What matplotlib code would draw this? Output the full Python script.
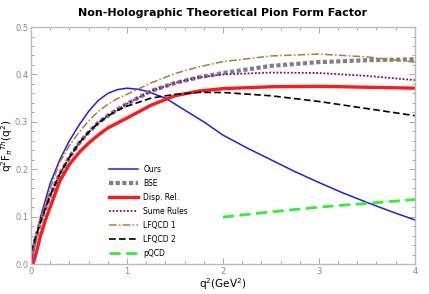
import numpy as np
import matplotlib
matplotlib.use("Agg")
import matplotlib.pyplot as plt
from matplotlib.ticker import MultipleLocator, FormatStrFormatter

# curve samples
x_ours = [0, 0.1, 0.2, 0.3, 0.4, 0.5, 0.6, 0.7, 0.8, 0.9, 1.0, 1.1, 1.2, 1.4, 1.6, 1.8,
          2.0, 2.25, 2.5, 2.75, 3.0, 3.25, 3.5, 3.75, 4.0]
y_ours = [0.0, 0.10, 0.17, 0.22, 0.26, 0.293, 0.322, 0.345, 0.36, 0.368, 0.371, 0.369, 0.365,
          0.35, 0.325, 0.30, 0.272, 0.245, 0.22, 0.195, 0.172, 0.15, 0.13, 0.111, 0.093]

x_c = [0, 0.1, 0.2, 0.3, 0.4, 0.5, 0.6, 0.7, 0.8, 0.9, 1.0, 1.25, 1.5, 1.75, 2.0, 2.5, 3.0, 3.5, 4.0]
y_bse = [0.02, 0.09, 0.145, 0.19, 0.225, 0.255, 0.278, 0.298, 0.313, 0.326, 0.338, 0.365,
         0.382, 0.394, 0.403, 0.418, 0.426, 0.43, 0.432]
y_sum = [0.02, 0.09, 0.145, 0.19, 0.225, 0.255, 0.278, 0.298, 0.313, 0.326, 0.338, 0.365,
         0.382, 0.394, 0.400, 0.404, 0.403, 0.397, 0.388]
y_lf1 = [0.02, 0.09, 0.16, 0.215, 0.25, 0.278, 0.302, 0.322, 0.337, 0.349, 0.358, 0.382,
         0.402, 0.416, 0.427, 0.439, 0.443, 0.437, 0.426]
y_lf2 = [0.025, 0.09, 0.145, 0.19, 0.225, 0.255, 0.278, 0.297, 0.312, 0.324, 0.333, 0.35,
         0.358, 0.362, 0.362, 0.355, 0.343, 0.328, 0.313]

x_disp = [0.02, 0.05, 0.1, 0.15, 0.2, 0.3, 0.4, 0.5, 0.6, 0.7, 0.8, 1.0, 1.25, 1.5, 1.75,
          2.0, 2.5, 3.0, 3.5, 4.0]
y_disp = [0.0, 0.02, 0.06, 0.093, 0.12, 0.175, 0.21, 0.235, 0.255, 0.272, 0.287, 0.308, 0.335,
          0.355, 0.365, 0.37, 0.374, 0.375, 0.373, 0.371]

x_pqcd = [2.0, 2.5, 3.0, 3.5, 4.0]
y_pqcd = [0.099, 0.11, 0.12, 0.128, 0.136]

fig = plt.figure(figsize=(4.29, 2.94), dpi=100)
ax = fig.add_axes([0.0723, 0.102, 0.8947, 0.806])

ax.plot(x_ours, y_ours, color="#1f1fe0", lw=1.1, label="Ours")
ax.plot(x_c, y_bse, color="#808080", lw=3, ls=(0, (1, 0.6)), label="BSE")
ax.plot(x_disp, y_disp, color="#ff1a1a", lw=2.4, label="Disp. Rel.")
ax.plot(x_c, y_sum, color="#8b008b", lw=1.3, ls=(0, (1, 1)), label="Sume Rules")
ax.plot(x_c, y_lf1, color="#b07a3a", lw=1.1, ls=(0, (5, 1.5, 1, 1.5)), label="LFQCD 1")
ax.plot(x_c, y_lf2, color="black", lw=1.2, ls=(0, (4, 2)), label="LFQCD 2")
ax.plot(x_pqcd, y_pqcd, color="#33ee33", lw=2, ls=(0, (4, 2)), label="pQCD")

ax.set_xlim(0, 4)
ax.set_ylim(0, 0.5)
ax.xaxis.set_major_locator(MultipleLocator(1))
ax.xaxis.set_minor_locator(MultipleLocator(0.2))
ax.xaxis.set_major_formatter(FormatStrFormatter("%d"))
ax.yaxis.set_major_locator(MultipleLocator(0.1))
ax.yaxis.set_minor_locator(MultipleLocator(0.02))
ax.yaxis.set_major_formatter(FormatStrFormatter("%.1f"))
ax.tick_params(which="both", direction="in", top=True, right=True, colors="#999999",
               labelcolor="#888888", labelsize=6, width=0.6)
ax.tick_params(which="major", length=4, pad=2)
ax.tick_params(which="minor", length=2)
for s in ax.spines.values():
    s.set_color("#bbbbbb")
    s.set_linewidth(1)

ax.set_xlabel("q$^2$(GeV$^2$)", fontsize=7.5, labelpad=0)
ax.set_ylabel("q$^2$F$_\\pi$$^{Th}$(q$^2$)", fontsize=7.5, labelpad=0)
ax.set_title("Non-Holographic Theoretical Pion Form Factor", fontsize=8, fontweight="bold", pad=8)

ax.legend(loc="upper left", bbox_to_anchor=(0.185, 0.447), frameon=False, fontsize=5.5,
          handlelength=3.8, labelspacing=0.65, handletextpad=0.7)

fig.savefig("out.png", dpi=100)
